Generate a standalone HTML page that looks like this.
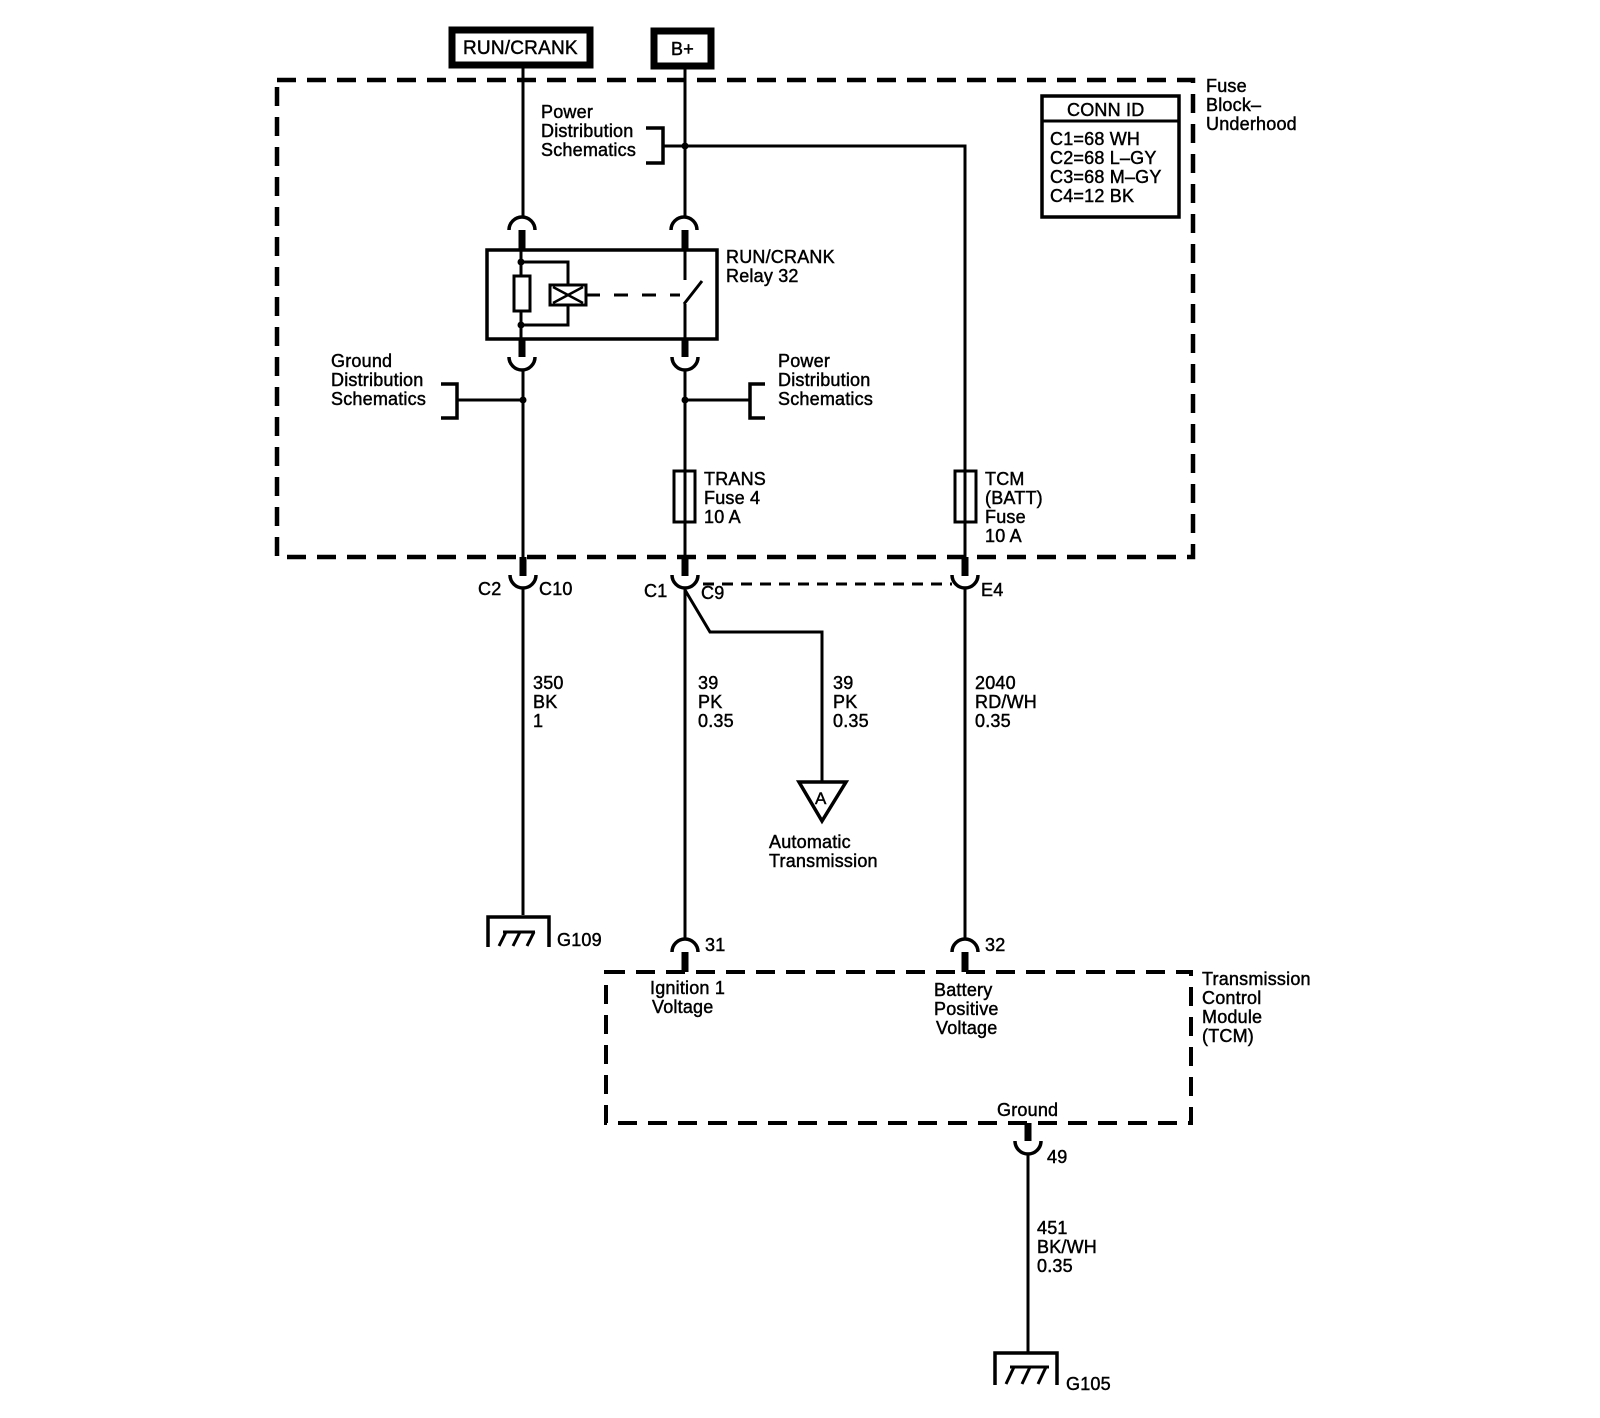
<!DOCTYPE html>
<html><head><meta charset="utf-8"><style>
html,body{margin:0;padding:0;background:#fff;}
svg{display:block;}
text{font-family:"Liberation Sans",Arial,sans-serif;font-size:18px;fill:#000;stroke:#000;stroke-width:0.45px;letter-spacing:0.2px;}
</style></head><body>
<svg width="1600" height="1418" viewBox="0 0 1600 1418" xmlns="http://www.w3.org/2000/svg">
<g fill="none" stroke="#000">
<rect x="277" y="80" width="916" height="477" stroke-width="4.5" stroke-dasharray="19,11"/>
<rect x="452" y="30" width="138" height="35" stroke-width="7"/>
<rect x="654" y="31" width="57" height="35" stroke-width="7"/>
<line x1="523" y1="66" x2="523" y2="218" stroke-width="3"/>
<line x1="685" y1="66" x2="685" y2="218" stroke-width="3"/>
<polyline points="685,146 965,146 965,557" stroke-width="3"/>
<polyline points="646,128 663,128 663,163 646,163" stroke-width="3.5"/>
<line x1="663" y1="146" x2="685" y2="146" stroke-width="3"/>
<path d="M509,230 A13,13 0 0 1 535,230" stroke-width="3.5"/>
<path d="M671,230 A13,13 0 0 1 697,230" stroke-width="3.5"/>
<line x1="522" y1="230" x2="522" y2="249" stroke-width="7"/>
<line x1="685" y1="230" x2="685" y2="249" stroke-width="7"/>
<rect x="487" y="250" width="230" height="89" stroke-width="3.5"/>
<line x1="521" y1="249" x2="521" y2="340" stroke-width="3"/>
<rect x="514" y="276" width="16" height="35" stroke-width="3" fill="#fff"/>
<polyline points="521,262 568,262 568,325 521,325" stroke-width="3"/>
<rect x="550" y="285" width="36" height="20" stroke-width="3" fill="#fff"/>
<polyline points="553,287 583,303" stroke-width="2.5"/>
<polyline points="553,303 583,287" stroke-width="2.5"/>
<line x1="586" y1="295" x2="680" y2="295" stroke-width="3" stroke-dasharray="14,14"/>
<line x1="685" y1="250" x2="685" y2="280" stroke-width="3"/>
<line x1="684" y1="304" x2="702" y2="281" stroke-width="3"/>
<line x1="685" y1="304" x2="685" y2="340" stroke-width="3"/>
<line x1="522" y1="340" x2="522" y2="357" stroke-width="7"/>
<line x1="685" y1="340" x2="685" y2="357" stroke-width="7"/>
<path d="M509,357 A13,13 0 0 0 535,357" stroke-width="3.5"/>
<path d="M672,357 A13,13 0 0 0 698,357" stroke-width="3.5"/>
<line x1="523" y1="370" x2="523" y2="557" stroke-width="3"/>
<line x1="685" y1="370" x2="685" y2="557" stroke-width="3"/>
<polyline points="441,384 457,384 457,418 441,418" stroke-width="3.5"/>
<line x1="457" y1="400" x2="523" y2="400" stroke-width="3"/>
<polyline points="765,384 750,384 750,418 765,418" stroke-width="3.5"/>
<line x1="685" y1="400" x2="750" y2="400" stroke-width="3"/>
<rect x="674" y="471" width="21" height="51" stroke-width="3" fill="#fff"/>
<line x1="685" y1="471" x2="685" y2="522" stroke-width="3"/>
<rect x="955" y="471" width="21" height="51" stroke-width="3" fill="#fff"/>
<line x1="965" y1="471" x2="965" y2="522" stroke-width="3"/>
<line x1="523" y1="557" x2="523" y2="576" stroke-width="7"/>
<line x1="685" y1="557" x2="685" y2="576" stroke-width="7"/>
<line x1="965" y1="557" x2="965" y2="576" stroke-width="7"/>
<path d="M510,575 A13,13 0 0 0 536,575" stroke-width="3.5"/>
<path d="M672,575 A13,13 0 0 0 698,575" stroke-width="3.5"/>
<path d="M952,575 A13,13 0 0 0 978,575" stroke-width="3.5"/>
<line x1="703" y1="584" x2="952" y2="584" stroke-width="3" stroke-dasharray="11,8"/>
<line x1="523" y1="588" x2="523" y2="915" stroke-width="3"/>
<line x1="685" y1="588" x2="685" y2="940" stroke-width="3"/>
<line x1="965" y1="588" x2="965" y2="940" stroke-width="3"/>
<polyline points="685,590 710,632 822,632 822,782" stroke-width="3"/>
<polygon points="799,782 846,782 822,821" stroke-width="3.5" fill="#fff"/>
<polyline points="488,947 488,917 549,917 549,947" stroke-width="3.5"/>
<line x1="503" y1="932" x2="535" y2="932" stroke-width="3"/>
<line x1="506" y1="932" x2="499" y2="946" stroke-width="3"/>
<line x1="520" y1="932" x2="513" y2="946" stroke-width="3"/>
<line x1="534" y1="932" x2="527" y2="946" stroke-width="3"/>
<path d="M672,952 A13,13 0 0 1 698,952" stroke-width="3.5"/>
<path d="M952,952 A13,13 0 0 1 978,952" stroke-width="3.5"/>
<line x1="685" y1="952" x2="685" y2="972" stroke-width="7"/>
<line x1="965" y1="952" x2="965" y2="972" stroke-width="7"/>
<rect x="606" y="972" width="585" height="151" stroke-width="4" stroke-dasharray="19,11"/>
<line x1="1028" y1="1123" x2="1028" y2="1141" stroke-width="7"/>
<path d="M1015,1141 A13,13 0 0 0 1041,1141" stroke-width="3.5"/>
<line x1="1028" y1="1154" x2="1028" y2="1353" stroke-width="3"/>
<polyline points="995,1385 995,1353 1057,1353 1057,1385" stroke-width="3.5"/>
<line x1="1010" y1="1367" x2="1049" y2="1367" stroke-width="3"/>
<line x1="1014" y1="1367" x2="1006" y2="1384" stroke-width="3"/>
<line x1="1030" y1="1367" x2="1022" y2="1384" stroke-width="3"/>
<line x1="1046" y1="1367" x2="1038" y2="1384" stroke-width="3"/>
<rect x="1042" y="96" width="137" height="121" stroke-width="3.5"/>
<line x1="1042" y1="121" x2="1179" y2="121" stroke-width="3"/>
</g>
<g fill="#000">
<circle cx="685" cy="146" r="3.5"/><circle cx="521" cy="262" r="3.5"/><circle cx="521" cy="325" r="3.5"/>
<circle cx="523" cy="400" r="3.5"/><circle cx="685" cy="400" r="3.5"/>
</g>
<text x="463" y="54" style="font-size:19px">RUN/CRANK</text>
<text x="671" y="55" style="font-size:18px">B+</text>
<text x="541" y="118">Power</text><text x="541" y="137">Distribution</text><text x="541" y="156">Schematics</text>
<text x="1206" y="92">Fuse</text><text x="1206" y="111">Block–</text><text x="1206" y="130">Underhood</text>
<text x="1067" y="116">CONN ID</text>
<text x="1050" y="145">C1=68 WH</text><text x="1050" y="164">C2=68 L–GY</text><text x="1050" y="183">C3=68 M–GY</text><text x="1050" y="202">C4=12 BK</text>
<text x="726" y="263">RUN/CRANK</text><text x="726" y="282">Relay 32</text>
<text x="331" y="367">Ground</text><text x="331" y="386">Distribution</text><text x="331" y="405">Schematics</text>
<text x="778" y="367">Power</text><text x="778" y="386">Distribution</text><text x="778" y="405">Schematics</text>
<text x="704" y="485">TRANS</text><text x="704" y="504">Fuse 4</text><text x="704" y="523">10 A</text>
<text x="985" y="485">TCM</text><text x="985" y="504">(BATT)</text><text x="985" y="523">Fuse</text><text x="985" y="542">10 A</text>
<text x="478" y="595">C2</text><text x="539" y="595">C10</text>
<text x="644" y="597">C1</text><text x="701" y="599">C9</text>
<text x="981" y="596">E4</text>
<text x="533" y="689">350</text><text x="533" y="708">BK</text><text x="533" y="727">1</text>
<text x="698" y="689">39</text><text x="698" y="708">PK</text><text x="698" y="727">0.35</text>
<text x="833" y="689">39</text><text x="833" y="708">PK</text><text x="833" y="727">0.35</text>
<text x="975" y="689">2040</text><text x="975" y="708">RD/WH</text><text x="975" y="727">0.35</text>
<text x="815" y="804" style="font-size:17px">A</text>
<text x="769" y="848">Automatic</text><text x="769" y="867">Transmission</text>
<text x="557" y="946">G109</text>
<text x="705" y="951">31</text><text x="985" y="951">32</text>
<text x="650" y="994">Ignition 1</text><text x="652" y="1013">Voltage</text>
<text x="934" y="996">Battery</text><text x="934" y="1015">Positive</text><text x="936" y="1034">Voltage</text>
<text x="1202" y="985">Transmission</text><text x="1202" y="1004">Control</text><text x="1202" y="1023">Module</text><text x="1202" y="1042">(TCM)</text>
<text x="997" y="1116">Ground</text>
<text x="1047" y="1163">49</text>
<text x="1037" y="1234">451</text><text x="1037" y="1253">BK/WH</text><text x="1037" y="1272">0.35</text>
<text x="1066" y="1390">G105</text>
</svg>
</body></html>
